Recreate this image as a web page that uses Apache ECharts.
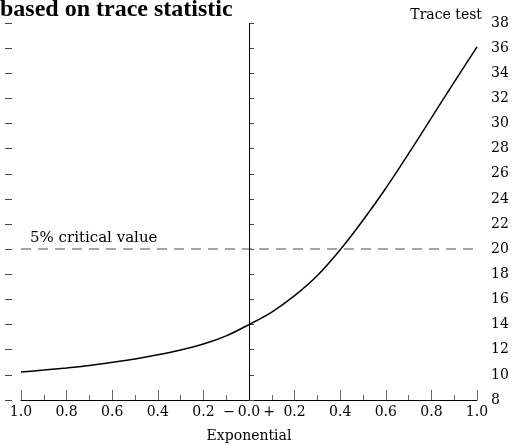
<!DOCTYPE html>
<html>
<head>
<meta charset="utf-8">
<script src="https://cdn.jsdelivr.net/npm/echarts@6/dist/echarts.min.js"></script>
<style>
  html, body { margin: 0; padding: 0; background: #fff; }
  #chart { width: 520px; height: 448px; }
</style>
</head>
<body>
<div id="chart"></div>
<script>
// Exponential parameter grid and trace statistic along it
const exponent = [-1.0, -0.9, -0.8, -0.7, -0.6, -0.5, -0.4, -0.3, -0.2, -0.1, 0.0,
                  0.1, 0.2, 0.3, 0.4, 0.5, 0.6, 0.7, 0.8, 0.9, 1.0];
const traceStat = [10.23, 10.38, 10.55, 10.75, 11.0, 11.27, 11.6, 11.98, 12.45, 13.1, 14.0,
                   15.0, 16.3, 17.9, 19.95, 22.3, 24.85, 27.6, 30.45, 33.3, 36.1];
const criticalValue = 20;
const criticalLabel = '5% critical value';
const titleText = 'based on trace statistic';
const yName = 'Trace test';
const xName = 'Exponential';

const serif = '"DejaVu Serif", serif';

const chart = echarts.init(document.getElementById('chart'), null, { renderer: 'canvas' });

chart.setOption({
  animation: false,
  backgroundColor: '#fff',
  grid: { left: 21, right: 43, top: 23, bottom: 43, containLabel: false },
  graphic: [
    {
      type: 'text', left: 0, top: -2,
      style: { text: titleText, font: 'bold 24px "Liberation Serif", serif', fill: '#000' }
    },
    {
      type: 'text', right: 38, top: 8,
      style: { text: yName, font: '14px ' + serif, fill: '#000' }
    }
  ],
  xAxis: {
    type: 'value', min: -1, max: 1, interval: 0.2,
    name: xName, nameLocation: 'middle', nameGap: 29,
    nameTextStyle: { fontFamily: serif, fontSize: 14, color: '#000' },
    axisLine: { show: true, lineStyle: { color: '#000', width: 1 } },
    axisTick: { show: true, inside: true, length: 10, lineStyle: { color: '#666' } },
    minorTick: { show: true, splitNumber: 2, length: 5, lineStyle: { color: '#666' } },
    splitLine: { show: false },
    axisLabel: {
      margin: 5,
      fontFamily: serif, fontSize: 14, color: '#000',
      formatter: function (v) {
        const r = Math.round(v * 10) / 10;
        if (r === 0) return '{m|−}0.0{p|+}';
        return Math.abs(r).toFixed(1);
      },
      rich: {
        m: { fontFamily: serif, fontSize: 14, color: '#000', padding: [0, 3, 0, 0] },
        p: { fontFamily: serif, fontSize: 14, color: '#000', padding: [0, 0, 0, 3] }
      }
    }
  },
  yAxis: [
    {
      type: 'value', position: 'right', min: 8, max: 38, interval: 2, offset: 8,
      axisLine: { show: false },
      axisTick: { show: true, length: 5, lineStyle: { color: '#444' } },
      splitLine: { show: false },
      axisLabel: { margin: 6, fontFamily: serif, fontSize: 14, color: '#000' }
    },
    {
      type: 'value', position: 'left', min: 8, max: 38, interval: 2, offset: 9,
      axisLine: { show: false },
      axisTick: { show: true, length: 7, lineStyle: { color: '#444' } },
      splitLine: { show: false },
      axisLabel: { show: false }
    }
  ],
  series: [
    {
      type: 'line',
      data: exponent.map((x, i) => [x, traceStat[i]]),
      smooth: 0.3,
      showSymbol: false,
      lineStyle: { color: '#000', width: 1.5 },
      markLine: {
        silent: true, symbol: 'none', animation: false,
        data: [
          {
            yAxis: criticalValue,
            lineStyle: { color: '#888', type: [10, 7], width: 1.5 },
            label: {
              show: true, position: 'insideStartTop', formatter: criticalLabel,
              fontFamily: serif, fontSize: 15, color: '#000', distance: [9, 4]
            }
          },
          {
            xAxis: 0,
            lineStyle: { color: '#000', type: 'solid', width: 1 },
            label: { show: false }
          }
        ]
      }
    }
  ]
});
</script>
</body>
</html>
